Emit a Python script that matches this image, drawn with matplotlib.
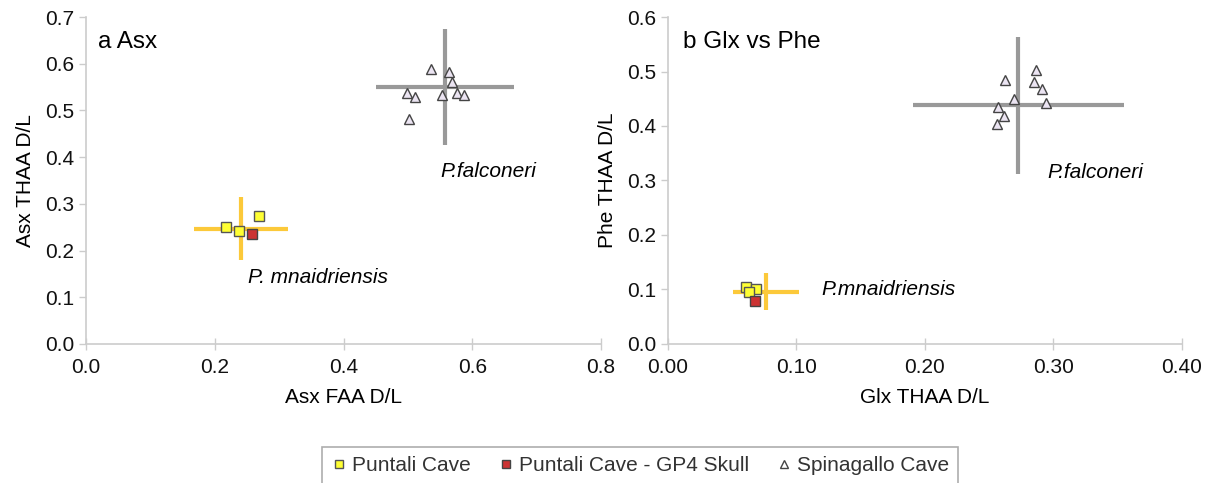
import matplotlib.pyplot as plt
from matplotlib.lines import Line2D

plt.rcParams['font.family'] = ['Liberation Sans', 'DejaVu Sans']

# panel a: Asx FAA D/L vs Asx THAA D/L
a_puntali_x = [0.218, 0.238, 0.269]
a_puntali_y = [0.250, 0.242, 0.274]
a_skull_x = [0.258]
a_skull_y = [0.235]
a_spina_x = [0.536, 0.564, 0.569, 0.499, 0.511, 0.553, 0.576, 0.587, 0.501]
a_spina_y = [0.589, 0.582, 0.561, 0.537, 0.529, 0.533, 0.537, 0.533, 0.482]
a_pm_mean = (0.241, 0.247)
a_pm_err = (0.073, 0.067)
a_pf_mean = (0.558, 0.550)
a_pf_err = (0.107, 0.125)

# panel b: Glx THAA D/L vs Phe THAA D/L
b_puntali_x = [0.0607, 0.0685, 0.0633]
b_puntali_y = [0.105, 0.100, 0.095]
b_skull_x = [0.068]
b_skull_y = [0.079]
b_spina_x = [0.2625, 0.2864, 0.2846, 0.2908, 0.2942, 0.2693, 0.2568, 0.2617, 0.2558]
b_spina_y = [0.484, 0.503, 0.480, 0.468, 0.442, 0.449, 0.434, 0.418, 0.404]
b_pm_mean = (0.0763, 0.096)
b_pm_err = (0.026, 0.034)
b_pf_mean = (0.2726, 0.438)
b_pf_err = (0.082, 0.126)

yellow = '#ffff33'
red = '#cc3333'
tri_fill = '#ebe4f2'
orange = '#fcc93a'
grey_bar = '#999999'

fig = plt.figure(figsize=(12.15, 4.83), dpi=100)
ax1 = fig.add_axes([0.0708, 0.2878, 0.4239, 0.677])
ax2 = fig.add_axes([0.5498, 0.2878, 0.4230, 0.677])


def draw(ax, px, py, sx, sy, tx, ty, pm, pme, pf, pfe):
    ax.errorbar(pm[0], pm[1], xerr=pme[0], yerr=pme[1], fmt='none',
                ecolor=orange, elinewidth=3, capsize=0, zorder=1)
    ax.errorbar(pf[0], pf[1], xerr=pfe[0], yerr=pfe[1], fmt='none',
                ecolor=grey_bar, elinewidth=3, capsize=0, zorder=1)
    ax.plot(px, py, 's', ms=7, mfc=yellow, mec='#555555', mew=1, ls='none', zorder=3)
    ax.plot(sx, sy, 's', ms=7.5, mfc=red, mec='#444444', mew=1, ls='none', zorder=3)
    ax.plot(tx, ty, '^', ms=7, mfc=tri_fill, mec='#444444', mew=1, ls='none', zorder=3)
    for s in ['top', 'right']:
        ax.spines[s].set_visible(False)
    for s in ['left', 'bottom']:
        ax.spines[s].set_color('#cccccc')
        ax.spines[s].set_linewidth(1.2)
    ax.tick_params(colors='#cccccc', labelcolor='#111111', labelsize=15, length=5, width=1)
    ax.tick_params(axis='x', direction='inout', length=8, pad=6)


draw(ax1, a_puntali_x, a_puntali_y, a_skull_x, a_skull_y, a_spina_x, a_spina_y,
     a_pm_mean, a_pm_err, a_pf_mean, a_pf_err)
ax1.set_xlim(0, 0.8)
ax1.set_ylim(0, 0.7)
ax1.set_xticks([0, 0.2, 0.4, 0.6, 0.8])
ax1.set_xticklabels(['0.0', '0.2', '0.4', '0.6', '0.8'])
ax1.set_yticks([i / 10 for i in range(8)])
ax1.set_yticklabels(['%.1f' % (i / 10) for i in range(8)])
ax1.set_xlabel('Asx FAA D/L', fontsize=15, labelpad=8)
ax1.set_ylabel('Asx THAA D/L', fontsize=15, labelpad=7)
ax1.text(0.019, 0.634, 'a Asx', fontsize=17.5)
ax1.text(0.550, 0.357, 'P.falconeri', fontsize=15, style='italic')
ax1.text(0.252, 0.131, 'P. mnaidriensis', fontsize=15, style='italic')

draw(ax2, b_puntali_x, b_puntali_y, b_skull_x, b_skull_y, b_spina_x, b_spina_y,
     b_pm_mean, b_pm_err, b_pf_mean, b_pf_err)
ax2.set_xlim(0, 0.4)
ax2.set_ylim(0, 0.6)
ax2.set_xticks([0, 0.1, 0.2, 0.3, 0.4])
ax2.set_xticklabels(['0.00', '0.10', '0.20', '0.30', '0.40'])
ax2.set_yticks([i / 10 for i in range(7)])
ax2.set_yticklabels(['%.1f' % (i / 10) for i in range(7)])
ax2.set_xlabel('Glx THAA D/L', fontsize=15, labelpad=8)
ax2.set_ylabel('Phe THAA D/L', fontsize=15, labelpad=7)
ax2.text(0.0114, 0.544, 'b Glx vs Phe', fontsize=17.5)
ax2.text(0.295, 0.305, 'P.falconeri', fontsize=15, style='italic')
ax2.text(0.119, 0.090, 'P.mnaidriensis', fontsize=15, style='italic')

handles = [
    Line2D([], [], marker='s', ls='none', ms=6, mfc=yellow, mec='#555555', label='Puntali Cave'),
    Line2D([], [], marker='s', ls='none', ms=6, mfc=red, mec='#444444', label='Puntali Cave - GP4 Skull'),
    Line2D([], [], marker='^', ls='none', ms=5.5, mfc='white', mec='#444444', label='Spinagallo Cave'),
]
leg = fig.legend(handles=handles, loc='upper center', bbox_to_anchor=(0.5267, 0.0745),
                 ncol=3, fontsize=15, frameon=True, fancybox=False,
                 borderaxespad=0, handletextpad=0.2, columnspacing=1.3,
                 handlelength=0.8, borderpad=0.45)
leg.get_frame().set_edgecolor('#999999')
leg.get_frame().set_linewidth(1.2)
for t in leg.get_texts():
    t.set_color('#333333')

fig.savefig('out.png', dpi=100)
